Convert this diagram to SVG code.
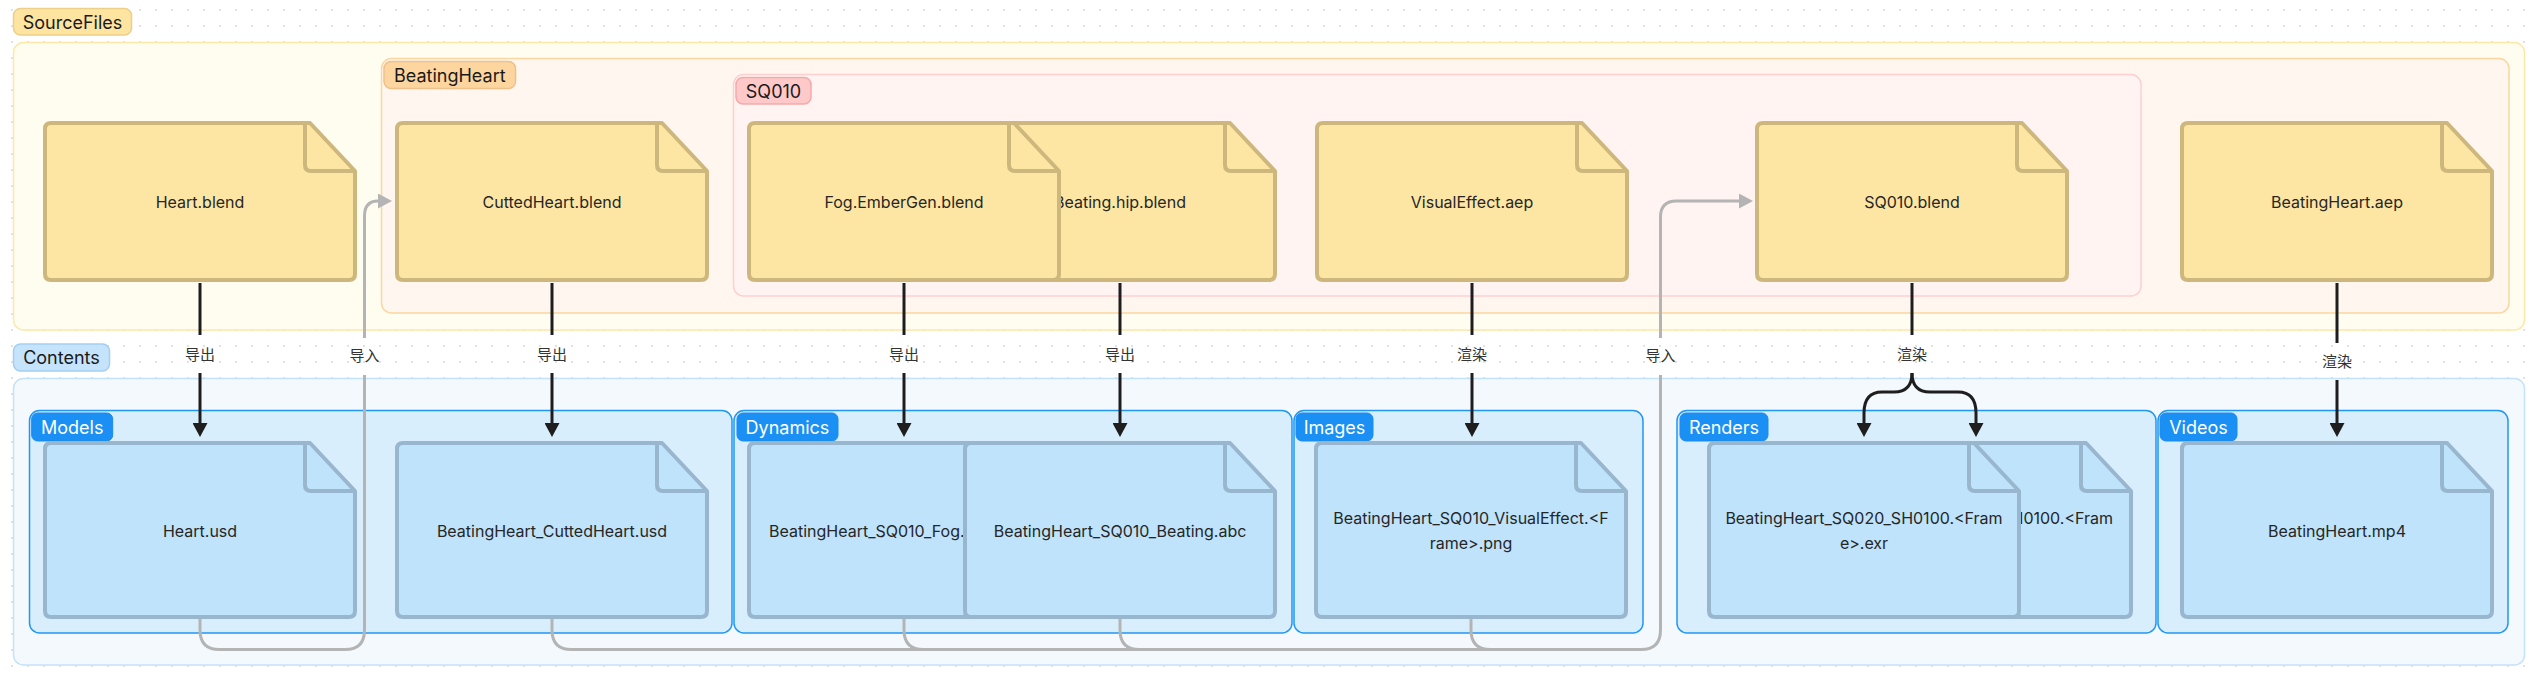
<svg xmlns="http://www.w3.org/2000/svg" width="2539" height="681" viewBox="0 0 2539 681">
<defs>
<pattern id="grid" patternUnits="userSpaceOnUse" x="4" y="2" width="16" height="16">
<circle cx="8" cy="8" r="1" fill="#d9d9d9"/>
</pattern>
<clipPath id="backClip"><rect x="2021" y="443" width="112" height="176"/></clipPath>
<clipPath id="fogClip"><rect x="749" y="443" width="215" height="176"/></clipPath>
<marker id="ah" viewBox="0 0 14 15" refX="0" refY="7.5" markerUnits="userSpaceOnUse" markerWidth="14" markerHeight="15" orient="auto">
<path d="M0,0 L14,7.5 L0,15 Z" fill="#1e1e1e"/>
</marker>
<marker id="ahg" viewBox="0 0 14 15" refX="0" refY="7.5" markerUnits="userSpaceOnUse" markerWidth="14" markerHeight="15" orient="auto">
<path d="M0,0 L14,7.5 L0,15 Z" fill="#b4b4b4"/>
</marker>
<style>
.glabel{font-family:Inter,"Liberation Sans",sans-serif;font-size:18px;fill:#1a1a1a;text-anchor:middle}
.blabel{font-family:Inter,"Liberation Sans",sans-serif;font-size:18px;fill:#ffffff;text-anchor:middle}
.ftext{font-family:Inter,"Liberation Sans",sans-serif;font-size:16px;fill:#262626;text-anchor:middle}
.elabel{font-family:Inter,"Noto Sans CJK SC",sans-serif;font-size:15px;fill:#333333;text-anchor:middle}
.yfile{fill:#fde6a3;stroke:#cdb77c;stroke-width:4;stroke-linejoin:round}
.bfile{fill:#bee3fb;stroke:#98b6cd;stroke-width:4;stroke-linejoin:round}
.fold{fill:none;stroke-linejoin:round;stroke-width:4}
.yfold{stroke:#cdb77c}
.bfold{stroke:#98b6cd}
.sub{fill:#d9eefc;stroke:#2196f3;stroke-width:1.5}
.subl{fill:#1a90f5;stroke:#1a8af0;stroke-width:1}
.blk{fill:none;stroke:#1e1e1e;stroke-width:3}
.gry{fill:none;stroke:#b4b4b4;stroke-width:3}
</style>
</defs>
<rect x="0" y="0" width="2539" height="681" fill="#ffffff"/>
<rect x="0" y="0" width="2539" height="681" fill="url(#grid)"/>

<g id="SourceFiles">
<rect x="13.5" y="42.5" width="2511" height="287.5" rx="10" fill="#fffcf0" stroke="#fde8a8" stroke-width="1.5"/>
<rect x="13.5" y="8.5" width="118" height="26.5" rx="7" fill="#fde4a0" stroke="#ecd08a" stroke-width="1.5"/>
<text class="glabel" x="72.5" y="28.5">SourceFiles</text>
</g>
<g id="BeatingHeart">
<rect x="381.5" y="58.5" width="2127.5" height="254.5" rx="10" fill="#fef6ef" stroke="#fcd6a0" stroke-width="1.5"/>
<rect x="384" y="61.5" width="131.5" height="27" rx="7" fill="#fdd59f" stroke="#efc08a" stroke-width="1.5"/>
<text class="glabel" x="449.8" y="81.5">BeatingHeart</text>
</g>
<g id="SQ010">
<rect x="733.5" y="74.5" width="1407.5" height="221.5" rx="10" fill="#fff4f2" stroke="#ffcfcf" stroke-width="1.5"/>
<rect x="736" y="77.5" width="75" height="26.5" rx="7" fill="#ffc9c9" stroke="#f2aaaa" stroke-width="1.5"/>
<text class="glabel" x="773.5" y="97.5">SQ010</text>
</g>

<g id="Contents">
<rect x="13.5" y="378.5" width="2511" height="286.5" rx="10" fill="#f4f9fe" stroke="#c3e2fb" stroke-width="1.5"/>
<rect x="13.5" y="344" width="96" height="27" rx="7" fill="#c5e3fb" stroke="#a3cff3" stroke-width="1.5"/>
<text class="glabel" x="61.5" y="364">Contents</text>
</g>
<g id="Models">
<rect class="sub" x="29.5" y="410.5" width="702.5" height="222.5" rx="10"/>
<rect class="subl" x="31.7" y="413" width="81" height="28" rx="6"/>
<text class="blabel" x="72.2" y="433.5">Models</text>
</g>
<g id="Dynamics">
<rect class="sub" x="734" y="410.5" width="558" height="222.5" rx="10"/>
<rect class="subl" x="737" y="413" width="101" height="28" rx="6"/>
<text class="blabel" x="787.5" y="433.5">Dynamics</text>
</g>
<g id="Images">
<rect class="sub" x="1294" y="410.5" width="349" height="222.5" rx="10"/>
<rect class="subl" x="1296" y="413" width="77" height="28" rx="6"/>
<text class="blabel" x="1334.5" y="433.5">Images</text>
</g>
<g id="Renders">
<rect class="sub" x="1677" y="410.5" width="479" height="222.5" rx="10"/>
<rect class="subl" x="1680" y="413" width="88" height="28" rx="6"/>
<text class="blabel" x="1724" y="433.5">Renders</text>
</g>
<g id="Videos">
<rect class="sub" x="2158" y="410.5" width="350" height="222.5" rx="10"/>
<rect class="subl" x="2160" y="413" width="77" height="28" rx="6"/>
<text class="blabel" x="2198.5" y="433.5">Videos</text>
</g>

<g id="HeartBlend">
<path class="yfile" d="M51,123 L310,123 L355,171 L355,274 Q355,280 349,280 L51,280 Q45,280 45,274 L45,129 Q45,123 51,123 Z"/>
<path class="fold yfold" d="M305,123 L305,165 Q305,171 311,171 L355,171"/>
<text class="ftext" x="200" y="207.5">Heart.blend</text>
</g>
<g id="CuttedHeartBlend">
<path class="yfile" d="M403,123 L662,123 L707,171 L707,274 Q707,280 701,280 L403,280 Q397,280 397,274 L397,129 Q397,123 403,123 Z"/>
<path class="fold yfold" d="M657,123 L657,165 Q657,171 663,171 L707,171"/>
<text class="ftext" x="552" y="207.5">CuttedHeart.blend</text>
</g>
<g id="BeatingHipBlend">
<path class="yfile" d="M971,123 L1230,123 L1275,171 L1275,274 Q1275,280 1269,280 L971,280 Q965,280 965,274 L965,129 Q965,123 971,123 Z"/>
<path class="fold yfold" d="M1225,123 L1225,165 Q1225,171 1231,171 L1275,171"/>
<text class="ftext" x="1120" y="207.5">Beating.hip.blend</text>
</g>
<g id="FogEmberGenBlend">
<path class="yfile" d="M755,123 L1014,123 L1059,171 L1059,274 Q1059,280 1053,280 L755,280 Q749,280 749,274 L749,129 Q749,123 755,123 Z"/>
<path class="fold yfold" d="M1009,123 L1009,165 Q1009,171 1015,171 L1059,171"/>
<text class="ftext" x="904" y="207.5">Fog.EmberGen.blend</text>
</g>
<g id="VisualEffectAep">
<path class="yfile" d="M1323,123 L1582,123 L1627,171 L1627,274 Q1627,280 1621,280 L1323,280 Q1317,280 1317,274 L1317,129 Q1317,123 1323,123 Z"/>
<path class="fold yfold" d="M1577,123 L1577,165 Q1577,171 1583,171 L1627,171"/>
<text class="ftext" x="1472" y="207.5">VisualEffect.aep</text>
</g>
<g id="SQ010Blend">
<path class="yfile" d="M1763,123 L2022,123 L2067,171 L2067,274 Q2067,280 2061,280 L1763,280 Q1757,280 1757,274 L1757,129 Q1757,123 1763,123 Z"/>
<path class="fold yfold" d="M2017,123 L2017,165 Q2017,171 2023,171 L2067,171"/>
<text class="ftext" x="1912" y="207.5">SQ010.blend</text>
</g>
<g id="BeatingHeartAep">
<path class="yfile" d="M2188,123 L2447,123 L2492,171 L2492,274 Q2492,280 2486,280 L2188,280 Q2182,280 2182,274 L2182,129 Q2182,123 2188,123 Z"/>
<path class="fold yfold" d="M2442,123 L2442,165 Q2442,171 2448,171 L2492,171"/>
<text class="ftext" x="2337" y="207.5">BeatingHeart.aep</text>
</g>

<g id="HeartUsd">
<path class="bfile" d="M51,443 L310,443 L355,491 L355,611 Q355,617 349,617 L51,617 Q45,617 45,611 L45,449 Q45,443 51,443 Z"/>
<path class="fold bfold" d="M305,443 L305,485 Q305,491 311,491 L355,491"/>
<text class="ftext" x="200" y="536.5">Heart.usd</text>
</g>
<g id="CuttedHeartUsd">
<path class="bfile" d="M403,443 L662,443 L707,491 L707,611 Q707,617 701,617 L403,617 Q397,617 397,611 L397,449 Q397,443 403,443 Z"/>
<path class="fold bfold" d="M657,443 L657,485 Q657,491 663,491 L707,491"/>
<text class="ftext" x="552" y="536.5">BeatingHeart_CuttedHeart.usd</text>
</g>
<g id="FogVdb">
<path class="bfile" d="M755,443 L1014,443 L1059,491 L1059,611 Q1059,617 1053,617 L755,617 Q749,617 749,611 L749,449 Q749,443 755,443 Z"/>
<path class="fold bfold" d="M1009,443 L1009,485 Q1009,491 1015,491 L1059,491"/>
<text class="ftext" x="769" y="536.5" style="text-anchor:start" clip-path="url(#fogClip)">BeatingHeart_SQ010_Fog.vdb</text>
</g>
<g id="BeatingAbc">
<path class="bfile" d="M971,443 L1230,443 L1275,491 L1275,611 Q1275,617 1269,617 L971,617 Q965,617 965,611 L965,449 Q965,443 971,443 Z"/>
<path class="fold bfold" d="M1225,443 L1225,485 Q1225,491 1231,491 L1275,491"/>
<text class="ftext" x="1120" y="536.5">BeatingHeart_SQ010_Beating.abc</text>
</g>
<g id="VisualEffectPng">
<path class="bfile" d="M1322,443 L1581,443 L1626,491 L1626,611 Q1626,617 1620,617 L1322,617 Q1316,617 1316,611 L1316,449 Q1316,443 1322,443 Z"/>
<path class="fold bfold" d="M1576,443 L1576,485 Q1576,491 1582,491 L1626,491"/>
<text class="ftext" x="1471" y="524">BeatingHeart_SQ010_VisualEffect.&lt;F</text>
<text class="ftext" x="1471" y="549">rame&gt;.png</text>
</g>
<g id="RenderSQ010">
<path class="bfile" d="M1827,443 L2086,443 L2131,491 L2131,611 Q2131,617 2125,617 L1827,617 Q1821,617 1821,611 L1821,449 Q1821,443 1827,443 Z"/>
<path class="fold bfold" d="M2081,443 L2081,485 Q2081,491 2087,491 L2131,491"/>
<text class="ftext" x="2113" y="524" style="text-anchor:end" clip-path="url(#backClip)">H0100.&lt;Fram</text>
</g>
<g id="RenderSQ020">
<path class="bfile" d="M1715,443 L1974,443 L2019,491 L2019,611 Q2019,617 2013,617 L1715,617 Q1709,617 1709,611 L1709,449 Q1709,443 1715,443 Z"/>
<path class="fold bfold" d="M1969,443 L1969,485 Q1969,491 1975,491 L2019,491"/>
<text class="ftext" x="1864" y="524">BeatingHeart_SQ020_SH0100.&lt;Fram</text>
<text class="ftext" x="1864" y="549">e&gt;.exr</text>
</g>
<g id="BeatingHeartMp4">
<path class="bfile" d="M2188,443 L2447,443 L2492,491 L2492,611 Q2492,617 2486,617 L2188,617 Q2182,617 2182,611 L2182,449 Q2182,443 2188,443 Z"/>
<path class="fold bfold" d="M2442,443 L2442,485 Q2442,491 2448,491 L2492,491"/>
<text class="ftext" x="2337" y="536.5">BeatingHeart.mp4</text>
</g>

<g id="connectors">
<path class="gry" d="M200,619 L200,630 Q200,649.5 219.5,649.5 L345,649.5 Q364.5,649.5 364.5,630 L364.5,375"/>
<path class="gry" d="M364.5,338 L364.5,216 Q364.5,201 378,201" marker-end="url(#ahg)"/>
<text class="elabel" x="364.5" y="361">导入</text>
<path class="gry" d="M552,619 L552,630 Q552,649.5 571.5,649.5 L1641,649.5 Q1660.5,649.5 1660.5,630 L1660.5,375"/>
<path class="gry" d="M904,619 L904,630 Q904,649.5 923.5,649.5 L1641,649.5"/>
<path class="gry" d="M1120,619 L1120,630 Q1120,649.5 1139.5,649.5 L1641,649.5"/>
<path class="gry" d="M1471,619 L1471,630 Q1471,649.5 1490.5,649.5 L1641,649.5"/>
<path class="gry" d="M1660.5,338 L1660.5,217 Q1660.5,201 1676.5,201 L1739,201" marker-end="url(#ahg)"/>
<text class="elabel" x="1660.5" y="361">导入</text>

<path class="blk" d="M200,283 L200,335 M200,373 L200,423" marker-end="url(#ah)"/>
<text class="elabel" x="200" y="360">导出</text>
<path class="blk" d="M552,283 L552,335 M552,373 L552,423" marker-end="url(#ah)"/>
<text class="elabel" x="552" y="360">导出</text>
<path class="blk" d="M904,283 L904,335 M904,373 L904,423" marker-end="url(#ah)"/>
<text class="elabel" x="904" y="360">导出</text>
<path class="blk" d="M1120,283 L1120,335 M1120,373 L1120,423" marker-end="url(#ah)"/>
<text class="elabel" x="1120" y="360">导出</text>
<path class="blk" d="M1472,283 L1472,335 M1472,373 L1472,423" marker-end="url(#ah)"/>
<text class="elabel" x="1472" y="360">渲染</text>
<path class="blk" d="M1912,283 L1912,335"/>
<path class="blk" d="M1912,373 C1912,386 1906,392 1894,392 L1882,392 C1869,392 1864,400 1864,413 L1864,423" marker-end="url(#ah)"/>
<path class="blk" d="M1912,373 C1912,386 1918,392 1930,392 L1958,392 C1971,392 1976,400 1976,413 L1976,423" marker-end="url(#ah)"/>
<text class="elabel" x="1912" y="360">渲染</text>
<path class="blk" d="M2337,283 L2337,343 M2337,380 L2337,423" marker-end="url(#ah)"/>
<text class="elabel" x="2337" y="367">渲染</text>
</g>
</svg>
